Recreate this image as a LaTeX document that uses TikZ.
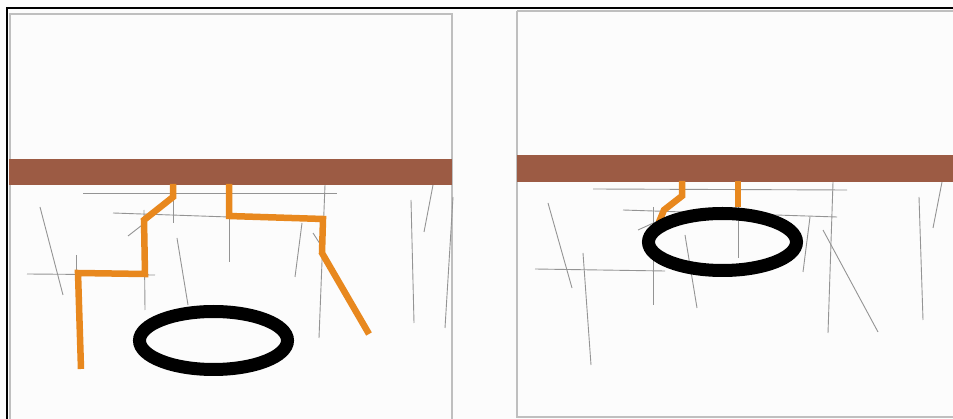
\documentclass[tikz,border=0pt]{standalone}
\begin{document}
\begin{tikzpicture}[x=1pt,y=-1pt,
  frame/.style={draw=black,line width=2.5pt},
  panel/.style={draw=black!25,line width=1.5pt},
  band/.style={fill=bandbrown},
  crack/.style={draw=black!42,line width=0.9pt},
  root/.style={draw=rootorange,line width=6.5pt,line join=miter},
  ring/.style={draw=black,line width=13pt}]
\definecolor{bandbrown}{RGB}{156,91,68}
\definecolor{rootorange}{RGB}{232,136,30}
\definecolor{paper}{RGB}{252,252,252}
\useasboundingbox (0,0) rectangle (953,419);
\fill[paper] (0,0) rectangle (953,419);
% outer frame (open to the right and bottom)
\draw[frame] (7,425) -- (7,8) -- (960,8);
% panels
\draw[panel] (10,425) -- (10,14) -- (452,14) -- (452,425);
\draw[panel] (517,11) -- (517,417) -- (960,417);
\draw[panel] (517,11) -- (960,11);

% ---- left panel: fine cracks in the soil
\draw[crack] (83,193) -- (337,193);
\draw[crack] (113,213) -- (229,217);
\draw[crack] (40,207) -- (63,295);
\draw[crack] (27,274) -- (155,275);
\draw[crack] (76,255) -- (76,276);
\draw[crack] (144,210) -- (145,310);
\draw[crack] (128,236) -- (146,222);
\draw[crack] (173,198) -- (173,223);
\draw[crack] (177,238) -- (188,305);
\draw[crack] (229,217) -- (229,262);
\draw[crack] (302,223) -- (295,277);
\draw[crack] (325,185) -- (319,338);
\draw[crack] (313,233) -- (322,247);
\draw[crack] (411,200) -- (414,323);
\draw[crack] (433,185) -- (424,232);
\draw[crack] (453,197) -- (445,328);

% ---- right panel: fine cracks in the soil
\draw[crack] (593,189) -- (847,190);
\draw[crack] (623,210) -- (837,217);
\draw[crack] (548,203) -- (572,288);
\draw[crack] (583,253) -- (591,365);
\draw[crack] (535,269) -- (665,271);
\draw[crack] (653,207) -- (653,305);
\draw[crack] (638,230) -- (660,220);
\draw[crack] (685,235) -- (697,308);
\draw[crack] (738,207) -- (738,258);
\draw[crack] (810,217) -- (803,272);
\draw[crack] (833,182) -- (828,333);
\draw[crack] (823,230) -- (878,332);
\draw[crack] (919,197) -- (923,320);
\draw[crack] (942,182) -- (933,228);

% ---- slabs
\fill[band] (9,159) rectangle (452,185);
\fill[band] (517,155) rectangle (953,182);

% ---- roots
\draw[root] (173,184) -- (173,197) -- (144,220) -- (145,274) -- (78,273) -- (81,369);
\draw[root] (229,184) -- (229,216) -- (323,219) -- (322,253) -- (369,334);
\draw[root] (682,181) -- (682,196) -- (664,210) -- (659,222);
\draw[root] (738,181) -- (738,207);

% ---- pipes in cross-section
\draw[ring] (213.5,340.5) ellipse [x radius=74, y radius=29];
\draw[ring] (722.5,242) ellipse [x radius=74, y radius=28.5];
\end{tikzpicture}
\end{document}
